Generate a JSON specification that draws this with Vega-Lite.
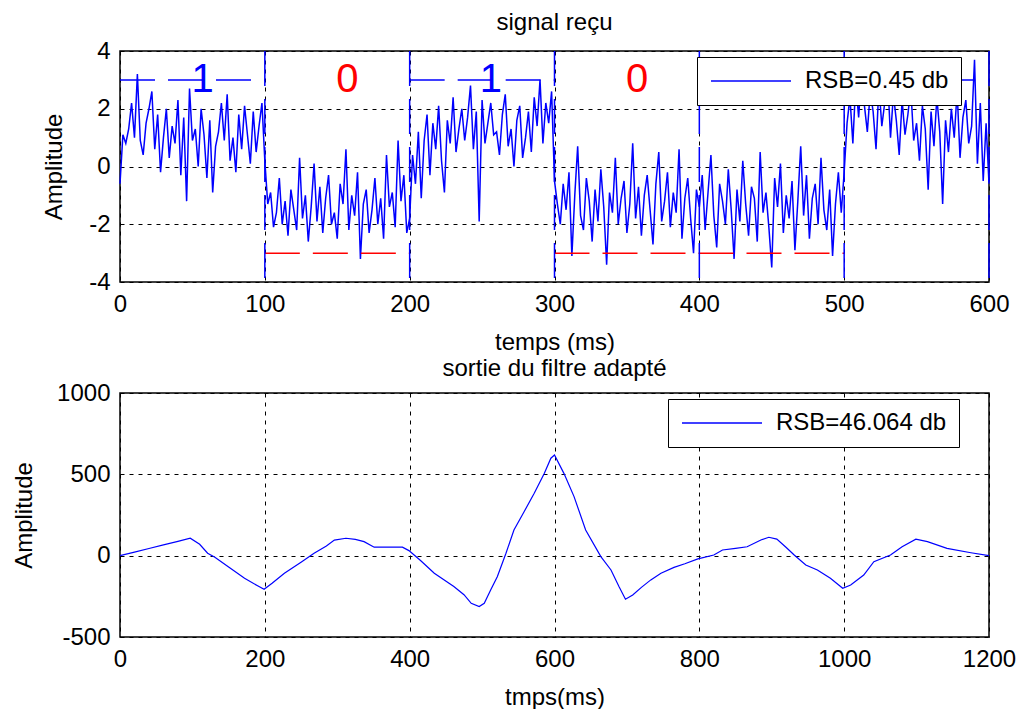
{
"$schema": "https://vega.github.io/schema/vega-lite/v6.json",
"background": "white",
"padding": {"left": 11, "top": 10, "right": 4, "bottom": 0},
"spacing": 1,
"config": {
  "font": "Liberation Sans",
  "view": {"stroke": "black", "strokeWidth": 1.5},
  "axis": {"grid": true, "gridColor": "black", "gridDash": [4, 5], "gridOpacity": 1, "gridWidth": 1, "domain": false, "ticks": false,
    "labelFontSize": 24, "labelColor": "black", "labelFont": "Liberation Sans", "labelFlush": false, "labelOverlap": false, "labelPadding": 10,
    "labelExpr": "'' + datum.value",
    "titleFontSize": 24, "titleFontWeight": "normal", "titleColor": "black", "titleFont": "Liberation Sans"},
  "axisX": {"titlePadding": 14},
  "title": {"fontSize": 24, "fontWeight": "normal", "color": "black", "font": "Liberation Sans", "anchor": "middle"},
  "legend": {"symbolType": "M-1,0H7", "symbolSize": 400, "symbolStrokeWidth": 1.5, "labelFontSize": 24, "labelFont": "Liberation Sans", "labelColor": "black", "labelLimit": 500, "padding": 12, "strokeColor": "black", "fillColor": "white", "labelOffset": 72, "cornerRadius": 0}
},
"resolve": {"scale": {"color": "independent"}, "legend": {"color": "independent"}},
"vconcat": [
{
  "width": 869, "height": 231,
  "title": {"text": "signal reçu", "offset": 4},
  "layer": [
    {
      "data": {"values": [
{"t":0,"v":-0.6},{"t":2,"v":1.1},{"t":4,"v":0.8},{"t":6,"v":1.3},{"t":8,"v":2.2},{"t":10,"v":1.0},{"t":12,"v":3.2},{"t":14,"v":0.9},{"t":16,"v":0.4},{"t":18,"v":1.5},
{"t":20,"v":2.0},{"t":22,"v":2.6},{"t":24,"v":0.6},{"t":26,"v":1.8},{"t":28,"v":-0.2},{"t":30,"v":1.0},{"t":32,"v":2.0},{"t":34,"v":0.3},{"t":36,"v":1.4},{"t":38,"v":0.8},
{"t":40,"v":2.3},{"t":42,"v":-0.3},{"t":44,"v":1.7},{"t":46,"v":-1.2},{"t":48,"v":2.7},{"t":50,"v":0.9},{"t":52,"v":1.3},{"t":54,"v":0.0},{"t":56,"v":2.0},{"t":58,"v":1.1},
{"t":60,"v":-0.4},{"t":62,"v":1.6},{"t":64,"v":-0.9},{"t":66,"v":0.7},{"t":68,"v":1.2},{"t":70,"v":2.2},{"t":72,"v":0.9},{"t":74,"v":2.5},{"t":76,"v":0.2},{"t":78,"v":1.0},
{"t":80,"v":-0.2},{"t":82,"v":1.8},{"t":84,"v":0.6},{"t":86,"v":2.1},{"t":88,"v":1.1},{"t":90,"v":0.1},{"t":92,"v":1.9},{"t":94,"v":0.5},{"t":96,"v":1.4},{"t":98,"v":2.2},
{"t":100,"v":0.2},{"t":102,"v":-1.3},{"t":104,"v":-0.9},{"t":106,"v":-2.1},{"t":108,"v":-1.6},{"t":110,"v":-0.4},{"t":112,"v":-2.0},{"t":114,"v":-1.2},{"t":116,"v":-2.4},{"t":118,"v":-0.8},
{"t":120,"v":-1.5},{"t":122,"v":-2.2},{"t":124,"v":0.3},{"t":126,"v":-1.8},{"t":128,"v":-1.0},{"t":130,"v":-2.6},{"t":132,"v":-1.4},{"t":134,"v":0.1},{"t":136,"v":-1.9},{"t":138,"v":-0.7},
{"t":140,"v":-2.3},{"t":142,"v":-1.1},{"t":144,"v":-0.3},{"t":146,"v":-2.0},{"t":148,"v":-1.6},{"t":150,"v":-2.5},{"t":152,"v":-0.6},{"t":154,"v":-1.3},{"t":156,"v":0.6},{"t":158,"v":-2.2},
{"t":160,"v":-1.0},{"t":162,"v":-1.7},{"t":164,"v":-0.2},{"t":166,"v":-3.2},{"t":168,"v":-1.3},{"t":170,"v":-0.8},{"t":172,"v":-2.3},{"t":174,"v":-1.5},{"t":176,"v":-0.4},{"t":178,"v":-2.0},
{"t":180,"v":-1.1},{"t":182,"v":-2.5},{"t":184,"v":0.4},{"t":186,"v":-1.4},{"t":188,"v":-0.9},{"t":190,"v":-2.1},{"t":192,"v":0.9},{"t":194,"v":-1.2},{"t":196,"v":-0.3},{"t":198,"v":-2.3},
{"t":200,"v":-1.8},{"t":202,"v":0.4},{"t":204,"v":-0.6},{"t":206,"v":1.2},{"t":208,"v":-1.1},{"t":210,"v":0.9},{"t":212,"v":1.8},{"t":214,"v":-0.3},{"t":216,"v":1.5},{"t":218,"v":0.6},
{"t":220,"v":2.1},{"t":222,"v":0.2},{"t":224,"v":-0.9},{"t":226,"v":1.6},{"t":228,"v":0.8},{"t":230,"v":2.4},{"t":232,"v":0.5},{"t":234,"v":1.3},{"t":236,"v":2.0},{"t":238,"v":0.9},
{"t":240,"v":1.7},{"t":242,"v":2.8},{"t":244,"v":0.6},{"t":246,"v":1.9},{"t":248,"v":-1.9},{"t":250,"v":2.3},{"t":252,"v":0.8},{"t":254,"v":1.5},{"t":256,"v":2.2},{"t":258,"v":1.1},
{"t":260,"v":1.2},{"t":262,"v":0.4},{"t":264,"v":1.8},{"t":266,"v":2.5},{"t":268,"v":0.7},{"t":270,"v":1.3},{"t":272,"v":0.0},{"t":274,"v":1.6},{"t":276,"v":2.1},{"t":278,"v":0.3},
{"t":280,"v":1.0},{"t":282,"v":1.9},{"t":284,"v":0.5},{"t":286,"v":2.4},{"t":288,"v":1.4},{"t":290,"v":3.0},{"t":292,"v":0.8},{"t":294,"v":2.2},{"t":296,"v":1.5},{"t":298,"v":2.6},
{"t":300,"v":-0.5},{"t":302,"v":-1.3},{"t":304,"v":-2.0},{"t":306,"v":-0.6},{"t":308,"v":-1.5},{"t":310,"v":-0.2},{"t":312,"v":-3.1},{"t":314,"v":-1.0},{"t":316,"v":0.7},{"t":318,"v":-1.7},
{"t":320,"v":-2.2},{"t":322,"v":-0.4},{"t":324,"v":-1.2},{"t":326,"v":-2.6},{"t":328,"v":-0.8},{"t":330,"v":-1.9},{"t":332,"v":-0.1},{"t":334,"v":-1.4},{"t":336,"v":-3.4},{"t":338,"v":-0.9},
{"t":340,"v":-1.6},{"t":342,"v":0.3},{"t":344,"v":-2.0},{"t":346,"v":-1.1},{"t":348,"v":-0.5},{"t":350,"v":-2.3},{"t":352,"v":-1.3},{"t":354,"v":0.8},{"t":356,"v":-1.8},{"t":358,"v":-0.7},
{"t":360,"v":-2.4},{"t":362,"v":-1.0},{"t":364,"v":-0.3},{"t":366,"v":-1.5},{"t":368,"v":-2.7},{"t":370,"v":-0.6},{"t":372,"v":0.5},{"t":374,"v":-1.9},{"t":376,"v":-1.2},{"t":378,"v":-0.2},
{"t":380,"v":-2.1},{"t":382,"v":-0.9},{"t":384,"v":-1.6},{"t":386,"v":0.6},{"t":388,"v":-2.5},{"t":390,"v":-1.1},{"t":392,"v":-0.4},{"t":394,"v":-1.8},{"t":396,"v":-3.0},{"t":398,"v":-0.8},
{"t":400,"v":-1.4},{"t":402,"v":-0.3},{"t":404,"v":-2.2},{"t":406,"v":-0.9},{"t":408,"v":0.4},{"t":410,"v":-1.7},{"t":412,"v":-2.8},{"t":414,"v":-0.6},{"t":416,"v":-1.2},{"t":418,"v":-2.0},
{"t":420,"v":-0.1},{"t":422,"v":-1.5},{"t":424,"v":-3.2},{"t":426,"v":-0.8},{"t":428,"v":-1.9},{"t":430,"v":0.2},{"t":432,"v":-1.3},{"t":434,"v":-2.4},{"t":436,"v":-0.7},{"t":438,"v":-1.1},
{"t":440,"v":-2.6},{"t":442,"v":0.5},{"t":444,"v":-1.6},{"t":446,"v":-0.9},{"t":448,"v":-2.1},{"t":450,"v":-3.5},{"t":452,"v":-0.4},{"t":454,"v":-1.4},{"t":456,"v":0.1},{"t":458,"v":-2.3},
{"t":460,"v":-1.0},{"t":462,"v":-1.8},{"t":464,"v":-0.5},{"t":466,"v":-2.9},{"t":468,"v":-1.2},{"t":470,"v":0.7},{"t":472,"v":-1.7},{"t":474,"v":-0.3},{"t":476,"v":-2.5},{"t":478,"v":-1.1},
{"t":480,"v":-0.6},{"t":482,"v":-2.0},{"t":484,"v":0.3},{"t":486,"v":-1.5},{"t":488,"v":-2.2},{"t":490,"v":-0.8},{"t":492,"v":-3.1},{"t":494,"v":-1.3},{"t":496,"v":-0.2},{"t":498,"v":-1.6},
{"t":500,"v":-0.2},{"t":502,"v":1.5},{"t":504,"v":2.4},{"t":506,"v":0.8},{"t":508,"v":2.9},{"t":510,"v":1.7},{"t":512,"v":3.3},{"t":514,"v":2.1},{"t":516,"v":1.2},{"t":518,"v":2.6},
{"t":520,"v":1.9},{"t":522,"v":0.6},{"t":524,"v":2.8},{"t":526,"v":1.4},{"t":528,"v":2.2},{"t":530,"v":3.1},{"t":532,"v":1.0},{"t":534,"v":2.5},{"t":536,"v":1.6},{"t":538,"v":0.4},
{"t":540,"v":2.3},{"t":542,"v":1.1},{"t":544,"v":1.8},{"t":546,"v":2.7},{"t":548,"v":0.9},{"t":550,"v":1.5},{"t":552,"v":0.2},{"t":554,"v":2.1},{"t":556,"v":1.3},{"t":558,"v":-0.8},
{"t":560,"v":1.9},{"t":562,"v":0.7},{"t":564,"v":2.4},{"t":566,"v":1.2},{"t":568,"v":-1.3},{"t":570,"v":1.6},{"t":572,"v":0.5},{"t":574,"v":2.0},{"t":576,"v":1.0},{"t":578,"v":2.6},
{"t":580,"v":0.3},{"t":582,"v":1.7},{"t":584,"v":2.3},{"t":586,"v":0.8},{"t":588,"v":1.4},{"t":590,"v":3.7},{"t":592,"v":0.1},{"t":594,"v":2.2},{"t":596,"v":-0.5},{"t":598,"v":1.5},
{"t":600,"v":-0.6}
      ]},
      "mark": {"type": "line", "strokeWidth": 1.5},
      "encoding": {
        "x": {"field": "t", "type": "quantitative", "scale": {"domain": [0, 600], "nice": false}, "axis": {"values": [0, 100, 200, 300, 400, 500, 600], "title": "temps (ms)"}},
        "y": {"field": "v", "type": "quantitative", "scale": {"domain": [-4, 4], "nice": false}, "axis": {"values": [-4, -2, 0, 2, 4], "title": "Amplitude", "titlePadding": 22}},
        "color": {"datum": "RSB=0.45 db", "scale": {"range": ["#0000ff"]}, "legend": {"title": null, "orient": "none", "legendX": 577, "legendY": 6}}
      }
    },
    {
      "data": {"values": [
        {"a": 0, "b": 100, "lvl": 3, "bit": "1"},
        {"a": 100, "b": 200, "lvl": -3, "bit": "0"},
        {"a": 200, "b": 300, "lvl": 3, "bit": "1"},
        {"a": 300, "b": 500, "lvl": -3, "bit": "0"},
        {"a": 500, "b": 600, "lvl": 3, "bit": "1"}
      ]},
      "mark": {"type": "rule", "strokeWidth": 1.5, "strokeDash": [35, 13]},
      "encoding": {
        "x": {"field": "a", "type": "quantitative"},
        "x2": {"field": "b"},
        "y": {"field": "lvl", "type": "quantitative"},
        "color": {"condition": {"test": "datum.bit == '1'", "value": "#0000ff"}, "value": "#ff0000"}
      }
    },
    {
      "data": {"values": [
        {"edge": 100, "top": 4, "bottom": -4},
        {"edge": 200, "top": 4, "bottom": -4},
        {"edge": 300, "top": 4, "bottom": -4},
        {"edge": 400, "top": 4, "bottom": -4},
        {"edge": 500, "top": 4, "bottom": -4},
        {"edge": 600, "top": 4, "bottom": -4}
      ]},
      "mark": {"type": "rule", "strokeWidth": 1.5, "strokeDash": [35, 13], "color": "#0000ff"},
      "encoding": {
        "x": {"field": "edge", "type": "quantitative"},
        "y": {"field": "top", "type": "quantitative"},
        "y2": {"field": "bottom"}
      }
    },
    {
      "data": {"values": [
        {"t": 57, "lvl": 3, "bit": "1"},
        {"t": 157, "lvl": 3, "bit": "0"},
        {"t": 256, "lvl": 3, "bit": "1"},
        {"t": 357, "lvl": 3, "bit": "0"}
      ]},
      "mark": {"type": "text", "fontSize": 40, "font": "Liberation Sans", "baseline": "middle", "align": "center"},
      "encoding": {
        "x": {"field": "t", "type": "quantitative"},
        "y": {"field": "lvl", "type": "quantitative"},
        "text": {"field": "bit"},
        "color": {"condition": {"test": "datum.bit == '1'", "value": "#0000ff"}, "value": "#ff0000"}
      }
    }
  ]
},
{
  "width": 869, "height": 244,
  "title": {"text": "sortie du filtre adapté", "offset": 0},
  "data": {"values": [
{"t":0,"v":0},{"t":20,"v":22},{"t":40,"v":44},{"t":60,"v":66},{"t":80,"v":88},{"t":97,"v":107},{"t":110,"v":70},{"t":121,"v":15},{"t":131,"v":-10},{"t":150,"v":-70},
{"t":172,"v":-139},{"t":190,"v":-185},{"t":199,"v":-207},{"t":210,"v":-170},{"t":227,"v":-108},{"t":250,"v":-40},{"t":268,"v":15},{"t":285,"v":60},{"t":296,"v":96},{"t":312,"v":107},
{"t":325,"v":100},{"t":337,"v":86},{"t":351,"v":52},{"t":370,"v":52},{"t":390,"v":52},{"t":399,"v":31},{"t":415,"v":-30},{"t":434,"v":-108},{"t":461,"v":-190},{"t":475,"v":-240},
{"t":485,"v":-293},{"t":496,"v":-313},{"t":503,"v":-293},{"t":512,"v":-210},{"t":521,"v":-129},{"t":533,"v":15},{"t":544,"v":158},{"t":558,"v":270},{"t":572,"v":384},{"t":586,"v":506},
{"t":595,"v":599},{"t":600,"v":619},{"t":613,"v":506},{"t":627,"v":363},{"t":643,"v":158},{"t":664,"v":-6},{"t":678,"v":-88},{"t":689,"v":-190},{"t":698,"v":-268},{"t":708,"v":-242},
{"t":720,"v":-195},{"t":733,"v":-149},{"t":747,"v":-108},{"t":765,"v":-72},{"t":780,"v":-50},{"t":798,"v":-20},{"t":820,"v":4},{"t":832,"v":35},{"t":850,"v":45},{"t":866,"v":55},
{"t":885,"v":96},{"t":896,"v":113},{"t":907,"v":102},{"t":920,"v":50},{"t":931,"v":4},{"t":947,"v":-57},{"t":963,"v":-88},{"t":981,"v":-139},{"t":998,"v":-200},{"t":1009,"v":-180},
{"t":1027,"v":-119},{"t":1041,"v":-37},{"t":1064,"v":4},{"t":1080,"v":55},{"t":1099,"v":101},{"t":1115,"v":86},{"t":1142,"v":45},{"t":1175,"v":18},{"t":1200,"v":0}
  ]},
  "mark": {"type": "line", "strokeWidth": 1.2},
  "encoding": {
    "x": {"field": "t", "type": "quantitative", "scale": {"domain": [0, 1200], "nice": false}, "axis": {"values": [0, 200, 400, 600, 800, 1000, 1200], "title": "tmps(ms)"}},
    "y": {"field": "v", "type": "quantitative", "scale": {"domain": [-500, 1000], "nice": false}, "axis": {"values": [-500, 0, 500, 1000], "title": "Amplitude", "titlePadding": 20}},
    "color": {"datum": "RSB=46.064 db", "scale": {"range": ["#0000ff"]}, "legend": {"title": null, "orient": "none", "legendX": 548, "legendY": 6}}
  }
}
]
}
